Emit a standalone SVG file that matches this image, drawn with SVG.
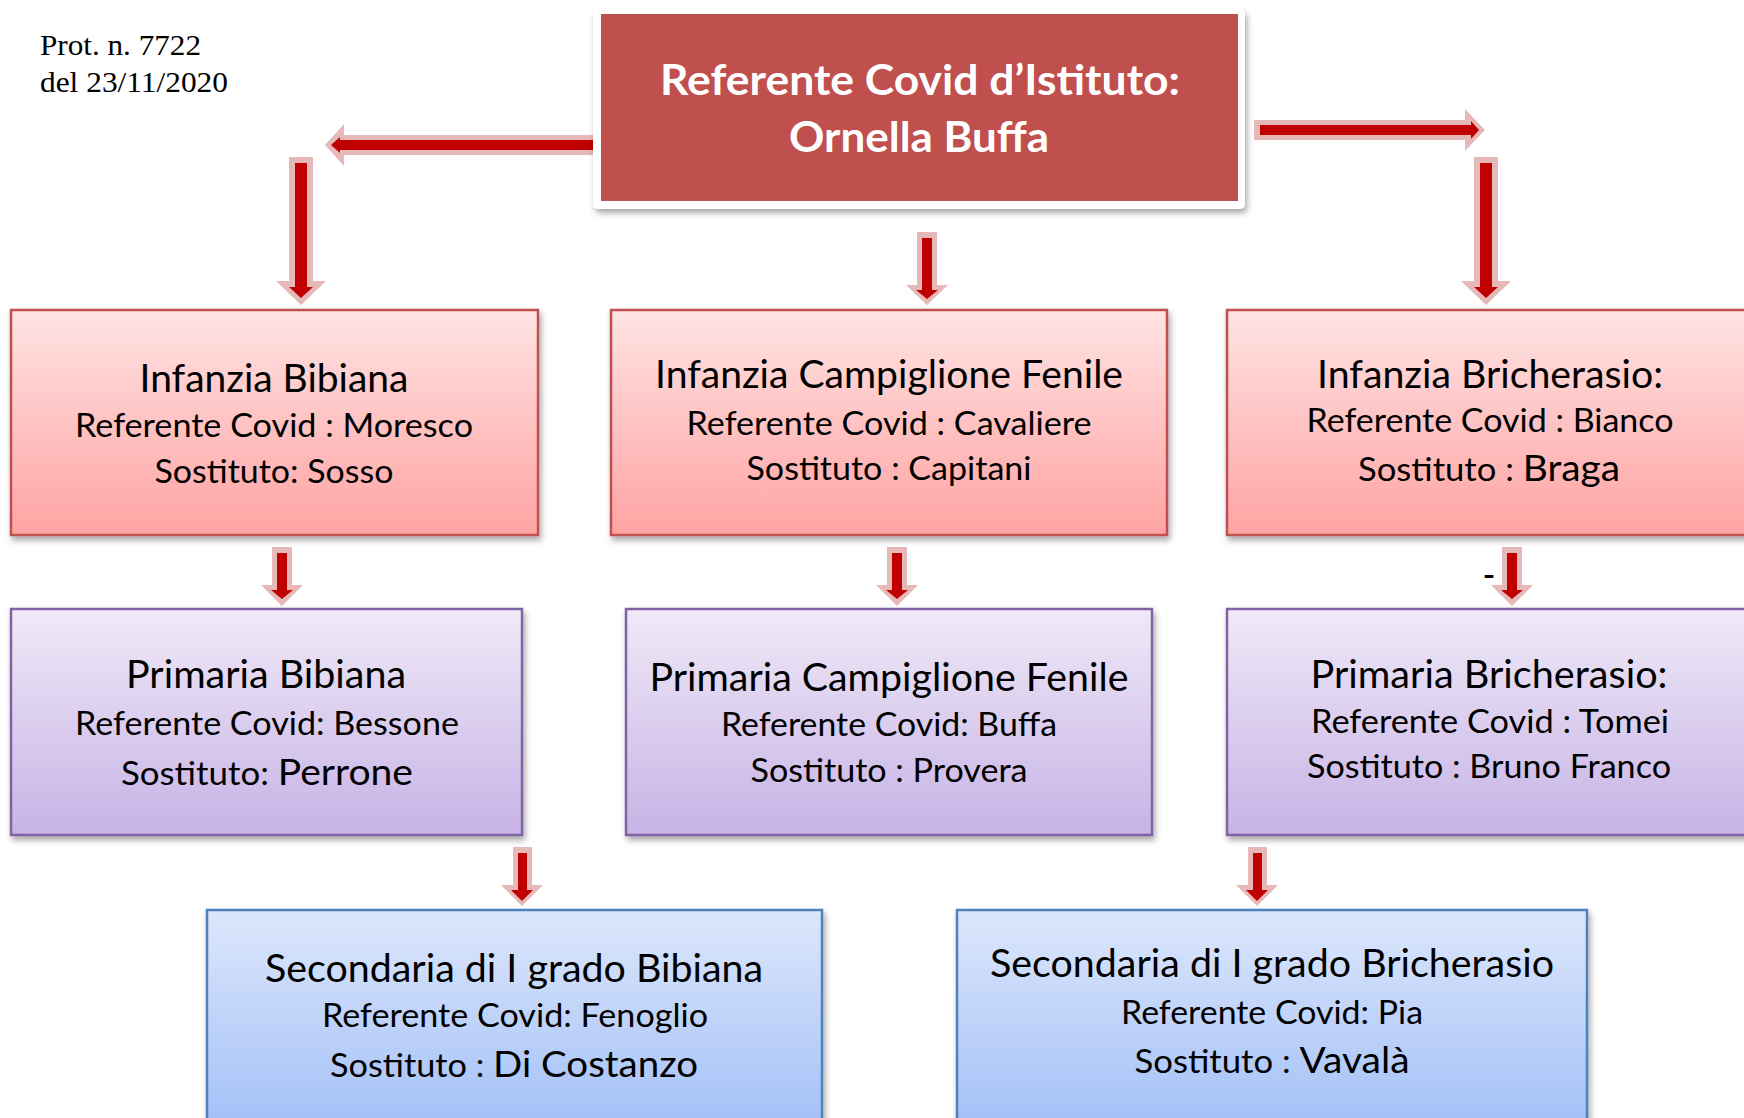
<svg xmlns="http://www.w3.org/2000/svg" width="1744" height="1118" viewBox="0 0 1744 1118">
<style>
.t{font-family:Lato,'Open Sans','Liberation Sans',sans-serif;fill:#000;text-anchor:middle}
.h{font-size:38px}
.l{font-size:33px}
.b{font-size:37px}
.main{font-family:Lato,'Open Sans','Liberation Sans',sans-serif;font-weight:bold;font-size:42px;fill:#fff;text-anchor:middle}
.note{font-family:'Liberation Serif','Times New Roman',serif;font-size:30px;fill:#000}
.pk{fill:#E6B9B8}
.rd{fill:#C00000}
.inf{fill:url(#gInf);stroke:#C0504D;stroke-width:2.5}
.pri{fill:url(#gPri);stroke:#8064A2;stroke-width:2.5}
.sec{fill:url(#gSec);stroke:#4F81BD;stroke-width:2.5}
</style>
<defs>
<linearGradient id="gInf" x1="0" y1="0" x2="0" y2="1"><stop offset="0" stop-color="#FFE3E3"/><stop offset="1" stop-color="#FFA3A3"/></linearGradient>
<linearGradient id="gPri" x1="0" y1="0" x2="0" y2="1"><stop offset="0" stop-color="#EFE9F7"/><stop offset="1" stop-color="#C7B3E6"/></linearGradient>
<linearGradient id="gSec" x1="0" y1="0" x2="0" y2="1"><stop offset="0" stop-color="#DDE7FB"/><stop offset="1" stop-color="#9CBCF7"/></linearGradient>
<filter id="sh" x="-5%" y="-5%" width="110%" height="120%"><feDropShadow dx="2" dy="4" stdDeviation="3" flood-color="#000" flood-opacity="0.35"/></filter>
</defs>

<g id="note">
<text class="note" x="40" y="55" textLength="161" lengthAdjust="spacingAndGlyphs">Prot. n. 7722</text>
<text class="note" x="40" y="92" textLength="188" lengthAdjust="spacingAndGlyphs">del 23/11/2020</text>
</g>

<g id="connectors">
<polygon class="pk" points="600,135 344,135 344,124 325,145 344,166 344,155 600,155"/>
<polygon class="rd" points="600,140 340,140 340,137 331,145 340,153 340,150 600,150"/>
<polygon class="pk" points="1254,120 1465,120 1465,109 1485,130 1465,151 1465,140 1254,140"/>
<polygon class="rd" points="1260,125 1471,125 1471,121 1479,130 1471,139 1471,135 1260,135"/>
<polygon class="pk" points="289,157 313,157 313,281 326,281 301,305 276,281 289,281"/>
<polygon class="rd" points="295,163 307,163 307,287 313,287 301,298 289,287 295,287"/>
<polygon class="pk" points="1474,157 1498,157 1498,281 1511,281 1486,305 1461,281 1474,281"/>
<polygon class="rd" points="1480,163 1492,163 1492,287 1498,287 1486,298 1474,287 1480,287"/>
<polygon class="pk" points="917,232 937,232 937,285 948,285 927,305 906,285 917,285"/>
<polygon class="rd" points="922,238 932,238 932,290 938,290 927,299 916,290 922,290"/>
<polygon class="pk" points="272,547 292,547 292,585 303,585 282,606 261,585 272,585"/>
<polygon class="rd" points="277,553 287,553 287,590 293,590 282,599 271,590 277,590"/>
<polygon class="pk" points="887,547 907,547 907,585 918,585 897,606 876,585 887,585"/>
<polygon class="rd" points="892,553 902,553 902,590 908,590 897,599 886,590 892,590"/>
<polygon class="pk" points="1502,547 1522,547 1522,585 1533,585 1512,606 1491,585 1502,585"/>
<polygon class="rd" points="1507,553 1517,553 1517,590 1523,590 1512,599 1501,590 1507,590"/>
<polygon class="pk" points="513,847 532,847 532,885 543,885 522,906 501,885 513,885"/>
<polygon class="rd" points="518,853 527,853 527,890 533,890 522,901 511,890 518,890"/>
<polygon class="pk" points="1248,847 1267,847 1267,885 1278,885 1257,906 1236,885 1248,885"/>
<polygon class="rd" points="1253,853 1262,853 1262,890 1268,890 1257,901 1246,890 1253,890"/>
<text class="t" x="1489" y="589" font-size="40" textLength="13" lengthAdjust="spacingAndGlyphs">-</text>
</g>

<g id="referente-istituto">
<rect x="593" y="9" width="652" height="200" rx="5" fill="#fff" filter="url(#sh)"/>
<rect x="601" y="14" width="637" height="187" fill="#C0504D"/>
<text class="main" x="920" y="95" textLength="520" lengthAdjust="spacingAndGlyphs">Referente Covid d’Istituto:</text>
<text class="main" x="919" y="152" textLength="260" lengthAdjust="spacingAndGlyphs">Ornella Buffa</text>
</g>

<g id="infanzia-bibiana">
<rect class="inf" x="11" y="310" width="527" height="225" filter="url(#sh)"/>
<text class="t h" x="274" y="392" textLength="269" lengthAdjust="spacingAndGlyphs">Infanzia Bibiana</text>
<text class="t l" x="274" y="437" textLength="398" lengthAdjust="spacingAndGlyphs">Referente Covid : Moresco</text>
<text class="t l" x="274" y="483" textLength="239" lengthAdjust="spacingAndGlyphs">Sostituto: Sosso</text>
</g>

<g id="infanzia-campiglione">
<rect class="inf" x="611" y="310" width="556" height="225" filter="url(#sh)"/>
<text class="t h" x="889" y="388" textLength="468" lengthAdjust="spacingAndGlyphs">Infanzia Campiglione Fenile</text>
<text class="t l" x="889" y="435" textLength="405" lengthAdjust="spacingAndGlyphs">Referente Covid : Cavaliere</text>
<text class="t l" x="889" y="480" textLength="285" lengthAdjust="spacingAndGlyphs">Sostituto : Capitani</text>
</g>

<g id="infanzia-bricherasio">
<rect class="inf" x="1227" y="310" width="540" height="225" filter="url(#sh)"/>
<text class="t h" x="1490" y="388" textLength="346" lengthAdjust="spacingAndGlyphs">Infanzia Bricherasio:</text>
<text class="t l" x="1490" y="432" textLength="367" lengthAdjust="spacingAndGlyphs">Referente Covid : Bianco</text>
<text class="t l" x="1489" y="481" textLength="262" lengthAdjust="spacingAndGlyphs">Sostituto : <tspan class="b">Braga</tspan></text>
</g>

<g id="primaria-bibiana">
<rect class="pri" x="11" y="609" width="511" height="226" filter="url(#sh)"/>
<text class="t h" x="266" y="688" textLength="280" lengthAdjust="spacingAndGlyphs">Primaria Bibiana</text>
<text class="t l" x="267" y="735" textLength="384" lengthAdjust="spacingAndGlyphs">Referente Covid: Bessone</text>
<text class="t l" x="267" y="785" textLength="292" lengthAdjust="spacingAndGlyphs">Sostituto: <tspan class="b">Perrone</tspan></text>
</g>

<g id="primaria-campiglione">
<rect class="pri" x="626" y="609" width="526" height="226" filter="url(#sh)"/>
<text class="t h" x="889" y="691" textLength="479" lengthAdjust="spacingAndGlyphs">Primaria Campiglione Fenile</text>
<text class="t l" x="889" y="736" textLength="336" lengthAdjust="spacingAndGlyphs">Referente Covid: Buffa</text>
<text class="t l" x="889" y="782" textLength="277" lengthAdjust="spacingAndGlyphs">Sostituto : Provera</text>
</g>

<g id="primaria-bricherasio">
<rect class="pri" x="1227" y="609" width="540" height="226" filter="url(#sh)"/>
<text class="t h" x="1489" y="688" textLength="357" lengthAdjust="spacingAndGlyphs">Primaria Bricherasio:</text>
<text class="t l" x="1490" y="733" textLength="358" lengthAdjust="spacingAndGlyphs">Referente Covid : Tomei</text>
<text class="t l" x="1489" y="778" textLength="364" lengthAdjust="spacingAndGlyphs">Sostituto : Bruno Franco</text>
</g>

<g id="secondaria-bibiana">
<rect class="sec" x="207" y="910" width="615" height="240" filter="url(#sh)"/>
<text class="t h" x="514" y="982" textLength="498" lengthAdjust="spacingAndGlyphs">Secondaria di I grado Bibiana</text>
<text class="t l" x="515" y="1027" textLength="386" lengthAdjust="spacingAndGlyphs">Referente Covid: Fenoglio</text>
<text class="t l" x="514" y="1077" textLength="368" lengthAdjust="spacingAndGlyphs">Sostituto : <tspan class="b">Di Costanzo</tspan></text>
</g>

<g id="secondaria-bricherasio">
<rect class="sec" x="957" y="910" width="630" height="240" filter="url(#sh)"/>
<text class="t h" x="1272" y="977" textLength="564" lengthAdjust="spacingAndGlyphs">Secondaria di I grado Bricherasio</text>
<text class="t l" x="1272" y="1024" textLength="302" lengthAdjust="spacingAndGlyphs">Referente Covid: Pia</text>
<text class="t l" x="1272" y="1073" textLength="275" lengthAdjust="spacingAndGlyphs">Sostituto : <tspan class="b">Vavalà</tspan></text>
</g>
</svg>
